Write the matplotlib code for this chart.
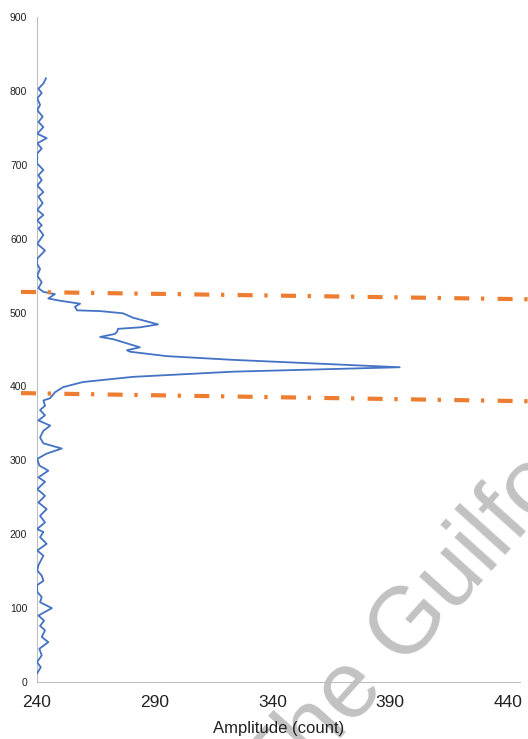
import matplotlib
matplotlib.use('Agg')
import matplotlib.pyplot as plt

plt.rcParams['font.family'] = ['Liberation Sans', 'DejaVu Sans']

# amplitude profile (count) vs depth
depth = [12, 20, 27, 36, 45, 54, 61, 70, 76, 83, 90, 100, 108, 115, 122, 131, 137, 144, 151, 158,
         171, 178, 187, 196, 203, 207, 216, 225, 234, 243, 252, 261, 271, 277, 286, 293, 302, 309,
         316, 323, 331, 340, 347, 354, 361, 368, 374, 381, 384, 392, 399, 406, 413, 420, 426, 436,
         441, 447, 449, 453, 464, 467, 471, 474, 478, 480, 484, 493, 499, 502, 503, 508, 512, 516,
         519, 525, 528, 533, 541, 550, 559, 566, 573, 584, 593, 605, 614, 618, 625, 632, 639, 648,
         657, 663, 672, 679, 686, 693, 702, 709, 715, 722, 729, 736, 742, 751, 758, 765, 774, 781,
         790, 797, 803, 810, 817]
amplitude = [240.1, 241.6, 240.0, 242.0, 241.0, 244.8, 242.0, 243.4, 241.3, 243.0, 240.6, 246.3,
             241.3, 242.0, 240.1, 240.0, 242.7, 242.0, 240.1, 240.6, 242.7, 240.1, 244.1, 241.3,
             242.7, 240.0, 243.4, 241.3, 244.1, 240.6, 243.4, 240.1, 243.4, 240.6, 244.8, 241.0,
             240.1, 244.0, 250.5, 242.7, 241.3, 242.7, 245.6, 240.6, 243.4, 241.3, 243.4, 242.7,
             245.5, 247.6, 251.0, 259.5, 280.8, 323.2, 394.0, 323.2, 295.2, 279.5, 278.2, 283.7,
             272.3, 266.8, 273.0, 274.0, 274.4, 283.7, 291.4, 280.8, 276.5, 266.8, 257.0, 256.1,
             258.3, 249.8, 244.8, 247.6, 242.7, 240.6, 242.0, 240.1, 241.3, 240.0, 240.1, 243.4,
             240.1, 242.7, 240.6, 242.0, 240.1, 242.7, 240.1, 242.4, 240.6, 242.7, 240.1, 242.0,
             240.6, 242.7, 240.0, 240.1, 240.0, 242.0, 240.1, 244.1, 240.1, 242.7, 240.6, 242.4,
             240.1, 241.3, 240.1, 242.0, 240.6, 242.7, 243.8]

# the two picked boundaries (dash-dot), start / end points
upper_x = [233.2, 448.5]
upper_y = [528, 518]
lower_x = [233.2, 448.5]
lower_y = [391, 380]

xticks = [240, 290, 340, 390, 440]
yticks = [0, 100, 200, 300, 400, 500, 600, 700, 800, 900]

fig = plt.figure(figsize=(5.28, 7.39), dpi=100)
ax = fig.add_axes([0.0701, 0.0771, 0.9148, 0.8999])
ax.patch.set_alpha(0)  # let the watermark show through under the lines

ax.plot(amplitude, depth, color='#4472C4', lw=1.3, zorder=3)
dd = (0, (3.6, 2.8, 0.8, 3.2))
ax.plot(upper_x, upper_y, color='#ED7D31', lw=3, ls=dd, clip_on=False, zorder=4)
ax.plot(lower_x, lower_y, color='#ED7D31', lw=3, ls=dd, clip_on=False, zorder=4)

ax.set_xlim(240, 445.1)
ax.set_ylim(0, 900)
ax.set_xticks(xticks)
ax.set_yticks(yticks)
ax.tick_params(axis='x', length=0, labelsize=12.5, pad=9.5, colors='#222222')
ax.tick_params(axis='y', length=0, labelsize=7.5, pad=7, colors='#222222')
ax.set_xlabel('Amplitude (count)', fontsize=12, labelpad=8, color='#222222')

for s in ['top', 'right']:
    ax.spines[s].set_visible(False)
for s in ['left', 'bottom']:
    ax.spines[s].set_color('#bfbfbf')
    ax.spines[s].set_linewidth(0.8)

# publisher watermark, drawn below the axes
fig.text(0.4905, -0.0727, 'The Guilford Press', fontsize=68, color='#c2c2c2',
         rotation=48, rotation_mode='anchor', ha='left', va='center', zorder=-1)

fig.savefig('out.png', dpi=100)
